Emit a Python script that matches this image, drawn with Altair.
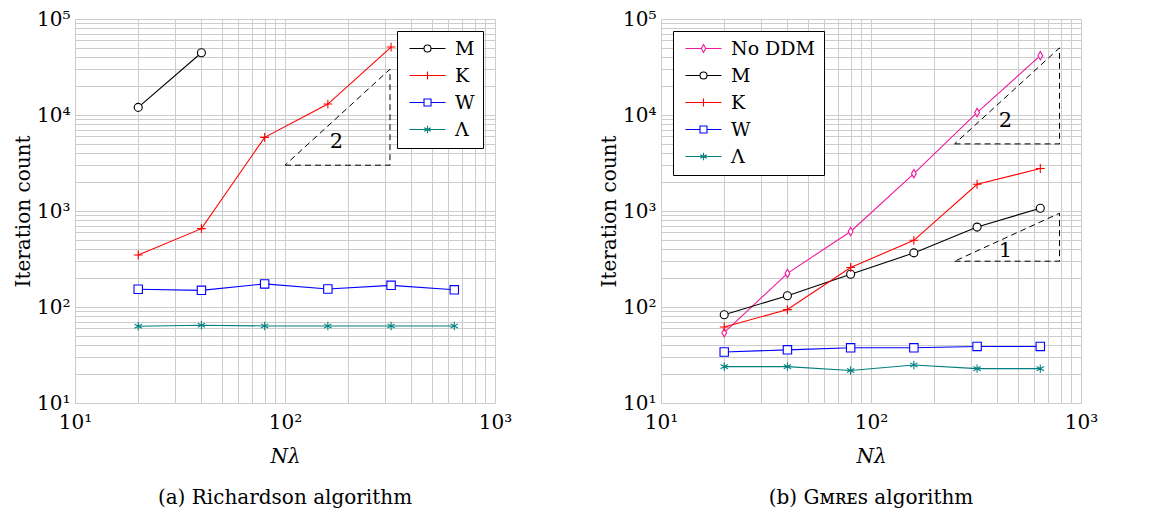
import altair as alt
import pandas as pd

# ---------------- data ----------------
N = [20, 40, 80, 160, 320, 640]

rich_series = ["M", "K", "W", "Λ"]
rich_M = [12000, 44500]
rich_K = [348, 655, 5850, 13000, 51000]
rich_W = [153, 149, 174, 154, 168, 151]
rich_L = [63, 64.5, 63.5, 63.5, 63.5, 63.5]

gm_series = ["No DDM", "M", "K", "W", "Λ"]
gm_noddm = [54, 224, 612, 2450, 10600, 41500]
gm_M = [83, 131, 219, 366, 680, 1070]
gm_K = [62, 94, 258, 495, 1900, 2770]
gm_W = [34, 35.8, 37.6, 37.6, 38.8, 38.8]
gm_L = [23.9, 23.9, 21.8, 24.9, 22.8, 22.8]

# slope triangles (x, y vertices, closed)
rich_tri_x = [100, 316.2, 316.2, 100]
rich_tri_y = [3000, 3000, 30000, 3000]
rich_lab_x = [176]
rich_lab_y = [5250]
rich_lab_t = ["2"]

gm_tri2_x = [250, 790, 790, 250]
gm_tri2_y = [5000, 5000, 50000, 5000]
gm_tri1_x = [250, 790, 790, 250]
gm_tri1_y = [300, 300, 948, 300]
gm_lab_x = [437, 437]
gm_lab_y = [8700, 385]
gm_lab_t = ["2", "1"]

x_grid = [10, 20, 30, 40, 50, 60, 70, 80, 90, 100, 200, 300, 400, 500, 600, 700, 800, 900, 1000]
y_grid = []
for d in [10, 100, 1000, 10000]:
    y_grid += [d * k for k in range(1, 10)]
y_grid.append(100000)

colors = {"No DDM": "#f0189b", "M": "#000000", "K": "#ff0000", "W": "#0000ff", "Λ": "#008080"}

# marker shapes (unit box) and legend shapes (line + marker)
marker_paths = {
    "No DDM": "M0,-1.05L0.6,0L0,1.05L-0.6,0Z",
    "M": "M-1,0A1,1 0 1,1 1,0A1,1 0 1,1 -1,0Z",
    "K": "M-1.1,0L1.1,0M0,-1.1L0,1.1",
    "W": "M-1.05,-1.05L1.05,-1.05L1.05,1.05L-1.05,1.05Z",
    "Λ": "M0,-1.05L0,1.05M-0.91,-0.52L0.91,0.52M-0.91,0.52L0.91,-0.52",
}
c = 2.6
legend_paths = {
    "No DDM": f"M-1,0L{c-0.45},0M{c+0.45},0L6.2,0M{c},-0.8L{c+0.45},0L{c},0.8L{c-0.45},0Z",
    "M": f"M-1,0L{c-0.7},0M{c+0.7},0L6.2,0M{c-0.7},0A0.7,0.7 0 1,1 {c+0.7},0A0.7,0.7 0 1,1 {c-0.7},0Z",
    "K": f"M-1,0L6.2,0M{c},-0.8L{c},0.8",
    "W": f"M-1,0L{c-0.7},0M{c+0.7},0L6.2,0M{c-0.7},-0.7L{c+0.7},-0.7L{c+0.7},0.7L{c-0.7},0.7Z",
    "Λ": f"M-1,0L6.2,0M{c},-0.75L{c},0.75M{c-0.65},-0.37L{c+0.65},0.37M{c-0.65},0.37L{c+0.65},-0.37",
}

FONT = "DejaVu Serif"
FS = 20


def series_frame(names, lists):
    rows = []
    for name, vals in zip(names, lists):
        for x, y in zip(N, vals):
            rows.append({"N": x, "it": y, "series": name})
    return pd.DataFrame(rows)


def tri_frame(groups):
    rows = []
    for gi, (xs, ys) in enumerate(groups):
        for i, (x, y) in enumerate(zip(xs, ys)):
            rows.append({"N": x, "it": y, "g": gi, "o": i})
    return pd.DataFrame(rows)


label_expr = ("datum.value==10?'10¹':datum.value==100?'10²':datum.value==1000?'10³':"
              "datum.value==10000?'10⁴':datum.value==100000?'10⁵':''")


def x_enc():
    return alt.X("N:Q", scale=alt.Scale(type="log", domain=[10, 1000], nice=False),
                 axis=alt.Axis(values=x_grid, labelExpr=label_expr, title="Nλ", ticks=False,
                               domain=False, gridColor="#cccccc", gridWidth=1,
                               labelFont=FONT, labelFontSize=FS, labelColor="black",
                               labelOverlap=False, labelPadding=9, labelFlush=False,
                               titleFont=FONT, titleFontSize=FS, titleFontStyle="italic",
                               titleFontWeight="normal", titleColor="black", titlePadding=14))


def y_enc():
    return alt.Y("it:Q", scale=alt.Scale(type="log", domain=[10, 100000], nice=False),
                 axis=alt.Axis(values=y_grid, labelExpr=label_expr, title="Iteration count", ticks=False,
                               domain=False, gridColor="#cccccc", gridWidth=1,
                               labelFont=FONT, labelFontSize=FS, labelColor="black",
                               labelOverlap=False, labelPadding=5, labelFlush=False,
                               titleFont=FONT, titleFontSize=FS, titleFontWeight="normal",
                               titleColor="black", titlePadding=3))


def panel(names, lists, tri_groups, lab_x, lab_y, lab_t, legend_orient, caption):
    df = series_frame(names, lists)
    col_scale = alt.Scale(domain=names, range=[colors[n] for n in names])
    mk_scale = alt.Scale(domain=names, range=[marker_paths[n] for n in names])
    lg_scale = alt.Scale(domain=names, range=[legend_paths[n] for n in names])
    base = alt.Chart(df)
    lines = base.mark_line(strokeWidth=1.1).encode(
        x=x_enc(), y=y_enc(),
        color=alt.Color("series:N", scale=col_scale, legend=None),
        detail="series:N")
    pts = base.mark_point(filled=False, fill="white", size=64, strokeWidth=1.1, opacity=1).encode(
        x="N:Q", y="it:Q",
        color=alt.Color("series:N", scale=col_scale, legend=None),
        shape=alt.Shape("series:N", scale=mk_scale, legend=None))
    tri = alt.Chart(tri_frame(tri_groups)).mark_line(
        color="black", strokeDash=[6, 4], strokeWidth=1).encode(
        x="N:Q", y="it:Q", detail="g:N", order="o:Q")
    txt = alt.Chart(pd.DataFrame({"N": lab_x, "it": lab_y, "t": lab_t})).mark_text(
        font=FONT, fontSize=FS + 1, color="black").encode(x="N:Q", y="it:Q", text="t:N")
    leg = base.transform_filter("false").mark_point(
        filled=False, fill="white", size=100, strokeWidth=1.1, opacity=1).encode(
        x="N:Q", y="it:Q",
        color=alt.Color("series:N", scale=col_scale, legend=alt.Legend(title=None)),
        shape=alt.Shape("series:N", scale=lg_scale, legend=alt.Legend(
            title=None, orient=legend_orient, offset=12, labelFont=FONT, labelFontSize=FS - 1,
            labelColor="black", labelOffset=31, symbolSize=100, symbolStrokeWidth=1.1,
            symbolFillColor="white", rowPadding=7, padding=8, strokeColor="black",
            fillColor="white", symbolOpacity=1)))
    return alt.layer(lines, pts, tri, txt, leg).resolve_scale(
        color="independent", shape="independent").properties(
        width=420, height=384,
        title=alt.TitleParams(caption, orient="bottom", anchor="middle", frame="group",
                              font=FONT, fontSize=FS, fontWeight="normal", color="black",
                              offset=22))


left = panel(rich_series, [rich_M, rich_K, rich_W, rich_L],
             [(rich_tri_x, rich_tri_y)], rich_lab_x, rich_lab_y, rich_lab_t,
             "top-right", "(a) Richardson algorithm")
right = panel(gm_series, [gm_noddm, gm_M, gm_K, gm_W, gm_L],
              [(gm_tri2_x, gm_tri2_y), (gm_tri1_x, gm_tri1_y)], gm_lab_x, gm_lab_y, gm_lab_t,
              "top-left", "(b) Gᴍʀᴇꜱ algorithm")

chart = alt.hconcat(left, right, spacing=86).properties(
    padding={"top": 0, "left": 5, "right": 5, "bottom": 5}).configure_view(
    stroke="black", strokeWidth=1.2).configure(background="white")

chart.save("out.html", embed_options={"renderer": "svg", "actions": False})
